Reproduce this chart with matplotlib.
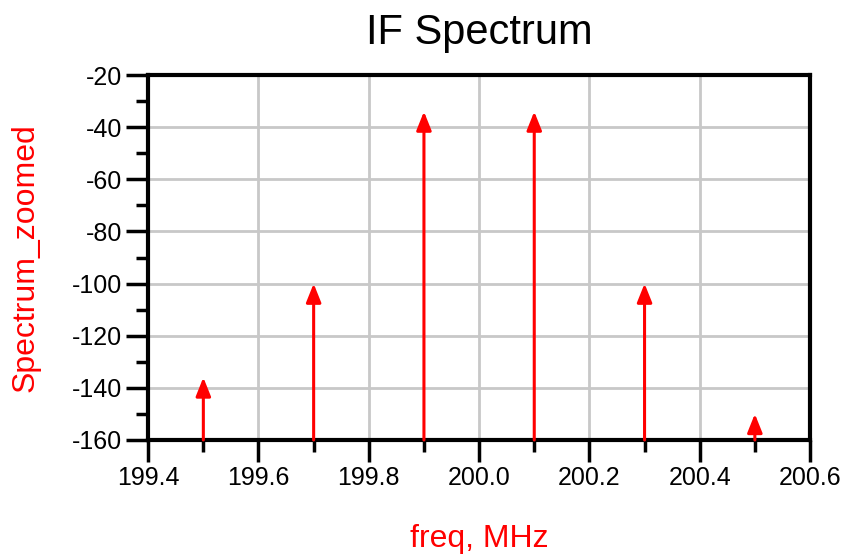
import matplotlib
matplotlib.use("Agg")
import matplotlib.pyplot as plt
import numpy as np

# spectrum lines
freq = [199.5, 199.7, 199.9, 200.1, 200.3, 200.5]
level = [-136, -100, -34, -34, -100, -150]

x_ticks = [199.4, 199.6, 199.8, 200.0, 200.2, 200.4, 200.6]
y_ticks = [-160, -140, -120, -100, -80, -60, -40, -20]

plt.rcParams['font.family'] = ['Liberation Sans', 'DejaVu Sans']
plt.rcParams['axes.unicode_minus'] = False

fig = plt.figure(figsize=(8.42, 5.58), dpi=100)
ax = fig.add_axes([0.176, 0.2115, 0.786, 0.654])

ax.set_xlim(199.4, 200.6)
ax.set_ylim(-160, -20)

# each tone drawn as a red arrow from the floor up to its level
for f, lv in zip(freq, level):
    ax.annotate("", xy=(f, lv), xytext=(f, -160),
                arrowprops=dict(arrowstyle="-|>,head_length=0.75,head_width=0.3",
                                mutation_scale=15, color="red", lw=2.2,
                                shrinkA=0, shrinkB=0),
                zorder=3)

ax.set_xticks(x_ticks)
ax.set_xticklabels([f"{v:.1f}" for v in x_ticks])
ax.set_xticks(np.arange(199.5, 200.6, 0.2), minor=True)
ax.set_yticks(y_ticks)
ax.set_yticks(np.arange(-150, -20, 20), minor=True)

ax.grid(True, which="major", color="#c8c8c8", lw=2)
ax.set_axisbelow(True)

for s in ax.spines.values():
    s.set_linewidth(3)
    s.set_color("black")

ax.tick_params(axis="both", which="major", direction="out", length=16, width=2.5,
               labelsize=18, color="black", pad=3)
ax.tick_params(axis="both", which="minor", direction="out", length=8.5, width=2.5,
               color="black")

ax.set_title("IF Spectrum", fontsize=30, pad=22)
ax.set_xlabel("freq, MHz", fontsize=23, color="red", labelpad=24)
ax.set_ylabel("Spectrum_zoomed", fontsize=23, color="red", labelpad=22)

fig.savefig("out.png", dpi=100)
